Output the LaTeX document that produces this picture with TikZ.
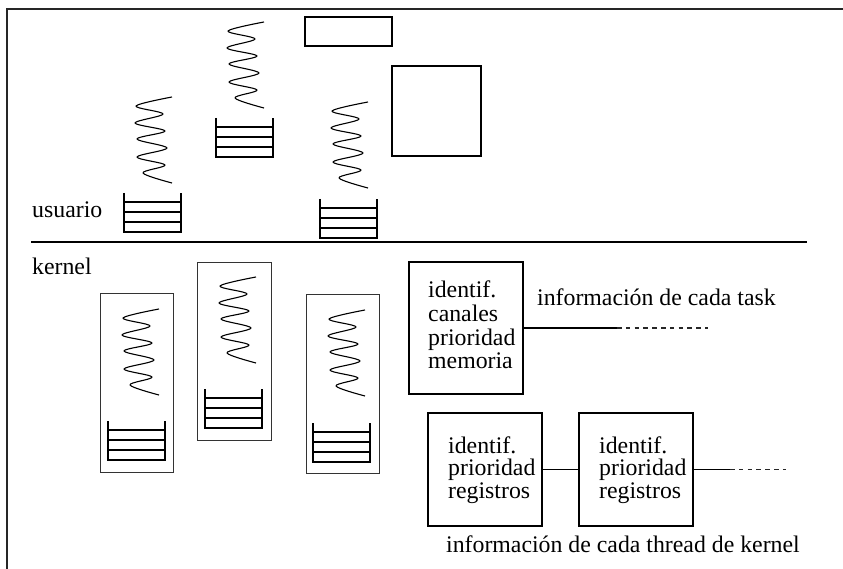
\documentclass[tikz,border=0pt]{standalone}
\usepackage{fontspec}
\setmainfont{Liberation Serif}
\begin{document}
\begin{tikzpicture}[x=1bp, y=-1bp,
  txt/.style={font=\fontsize{23.8bp}{23.6bp}\selectfont, inner sep=0pt},
  fieldlist/.style={txt, align=left, anchor=north west},
  threadfields/.style={fieldlist, font=\fontsize{23.8bp}{22.3bp}\selectfont},
  plainbox/.style={draw, line width=1.3bp, inner sep=0pt},
  procbox/.style={draw=black!80, line width=0.9bp, inner sep=0pt},
  link/.style={line width=1.2bp},
  morelink/.style={line width=1.1bp, draw=black!85, dash pattern=on 4.5bp off 4.3bp},
  spring/.pic={
    \draw[line width=1.1bp, line join=round]
      plot[smooth, tension=0.55] coordinates {
        (0,0) (-36,9) (-9,17) (-37,26) (-7,34) (-35,42)
        (-5,51) (-35,60) (-7,68) (-29,76) (0,86)};
  },
  stack/.pic={
    \draw[line width=1.6bp] (0,0) -- (0,39) -- (57,39) -- (57,0);
    \foreach \yy in {9,19,29} \draw[line width=1.6bp] (0,\yy) -- (57,\yy);
  }
]
\useasboundingbox (0,0) rectangle (843,569);

% outer frame (top and left edges)
\draw[line width=1.4bp, black!85] (7,569) -- (7,9) -- (843,9);

% user / kernel boundary
\draw[line width=1.2bp] (31,242) -- (807,242);
\node[txt, anchor=base west] (usr) at (32,218) {usuario};
\node[txt, anchor=base west] (krn) at (32,274) {kernel};

% user space: threads and their stacks
\pic at (172,97) {spring};
\pic at (124,193) {stack};
\pic at (264,22) {spring};
\pic at (216,118) {stack};
\pic at (368,102) {spring};
\pic at (320,199) {stack};

% user space: memory regions
\node[plainbox, minimum width=87bp, minimum height=29bp] (region) at (348.5,31.5) {};
\node[plainbox, minimum width=89bp, minimum height=90bp] (page) at (436.5,111) {};

% kernel threads
\node[procbox, minimum width=73bp, minimum height=179bp] (kt1) at (136.5,382.5) {};
\node[procbox, minimum width=74bp, minimum height=178bp] (kt2) at (234,351) {};
\node[procbox, minimum width=73bp, minimum height=179bp] (kt3) at (342.5,383.5) {};
\pic at (159,309) {spring};
\pic at (108,421) {stack};
\pic at (256,277) {spring};
\pic at (205,389) {stack};
\pic at (365,310) {spring};
\pic at (313,423) {stack};

% task descriptor
\node[plainbox, minimum width=114bp, minimum height=132bp] (task) at (466,328) {};
\node[fieldlist] (taskfields) at (428,281) {identif.\\canales\\prioridad\\memoria};
\node[txt, anchor=base west] (tasklbl) at (537,305) {información de cada task};
\coordinate (taskmid) at (617,328);
\coordinate (taskend) at (708,328);
\draw[link] (task.east) -- (taskmid);
\draw[morelink] (taskmid) -- (taskend);

% kernel thread descriptors
\node[plainbox, minimum width=114bp, minimum height=113bp] (th1) at (485,469.5) {};
\node[plainbox, minimum width=114bp, minimum height=113bp] (th2) at (636,469.5) {};
\node[threadfields] (th1fields) at (448,436.5) {identif.\\prioridad\\registros};
\node[threadfields] (th2fields) at (599,436.5) {identif.\\prioridad\\registros};
\coordinate (thmid) at (730,469.5);
\coordinate (thend) at (786,469.5);
\draw[link] (th1.east) -- (th2.west);
\draw[link] (th2.east) -- (thmid);
\draw[morelink] (thmid) -- (thend);
\node[txt, anchor=base west] (thlbl) at (446,552) {información de cada thread de kernel};
\end{tikzpicture}
\end{document}
